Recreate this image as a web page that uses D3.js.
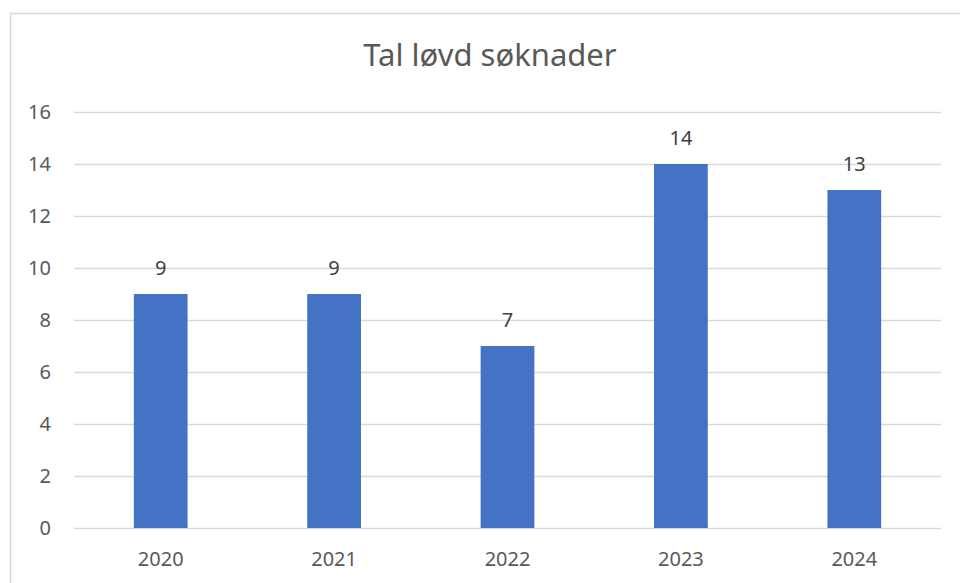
<!DOCTYPE html>
<html lang="nn">
<head>
<meta charset="UTF-8">
<title>Tal løvd søknader</title>
<script src="https://cdn.jsdelivr.net/npm/d3@7"></script>
<style>
  body { margin: 0; background: #fff; }
  svg { display: block; }
  svg text { font-family: "Noto Sans", "Open Sans", sans-serif; }
</style>
</head>
<body>
<div id="chart"></div>
<script>
  // data
  var years = ["2020", "2021", "2022", "2023", "2024"];
  var counts = [9, 9, 7, 14, 13];
  var yTicks = [0, 2, 4, 6, 8, 10, 12, 14, 16];

  var w = 960, h = 583;
  var plot = { left: 74, right: 941, top: 112, bottom: 528 };

  var svg = d3.select("#chart").append("svg")
    .attr("width", w)
    .attr("height", h);

  // chart frame (right and bottom edges run past the window)
  svg.append("rect")
    .attr("x", 10.5).attr("y", 13.5)
    .attr("width", 980).attr("height", 600)
    .attr("fill", "#fff")
    .attr("stroke", "#d9d9d9")
    .attr("stroke-width", 1.5);

  var x = d3.scaleBand()
    .domain(years)
    .range([plot.left, plot.right])
    .paddingInner(0.69)
    .paddingOuter(0.345);

  var y = d3.scaleLinear()
    .domain([0, 16])
    .range([plot.bottom, plot.top]);

  // gridlines + y labels
  var yAxis = svg.append("g")
    .attr("transform", "translate(" + plot.left + ",0)")
    .call(d3.axisLeft(y).tickValues(yTicks).tickSize(-(plot.right - plot.left)).tickPadding(23));
  yAxis.select(".domain").remove();
  yAxis.selectAll(".tick line").attr("stroke", "#d9d9d9").attr("stroke-width", 1.5);
  yAxis.selectAll(".tick text")
    .attr("fill", "#595959")
    .style("font-size", "20px");

  // bars
  svg.selectAll("rect.bar")
    .data(counts)
    .enter()
    .append("rect")
    .attr("class", "bar")
    .attr("x", function(d, i) { return x(years[i]); })
    .attr("y", function(d) { return y(d); })
    .attr("width", x.bandwidth())
    .attr("height", function(d) { return y(0) - y(d); })
    .attr("fill", "#4472c4");

  // value labels
  svg.selectAll("text.val")
    .data(counts)
    .enter()
    .append("text")
    .attr("class", "val")
    .attr("x", function(d, i) { return x(years[i]) + x.bandwidth() / 2; })
    .attr("y", function(d) { return y(d) - 19; })
    .attr("text-anchor", "middle")
    .attr("fill", "#404040")
    .style("font-size", "20px")
    .text(function(d) { return d; });

  // x axis labels
  var xAxis = svg.append("g")
    .attr("transform", "translate(0," + plot.bottom + ")")
    .call(d3.axisBottom(x).tickSize(0).tickPadding(24));
  xAxis.select(".domain").remove();
  xAxis.selectAll(".tick text")
    .attr("fill", "#595959")
    .style("font-size", "20px");

  // title
  svg.append("text")
    .attr("x", 490)
    .attr("y", 66)
    .attr("text-anchor", "middle")
    .attr("fill", "#595959")
    .style("font-size", "31px")
    .text("Tal løvd søknader");
</script>
</body>
</html>
